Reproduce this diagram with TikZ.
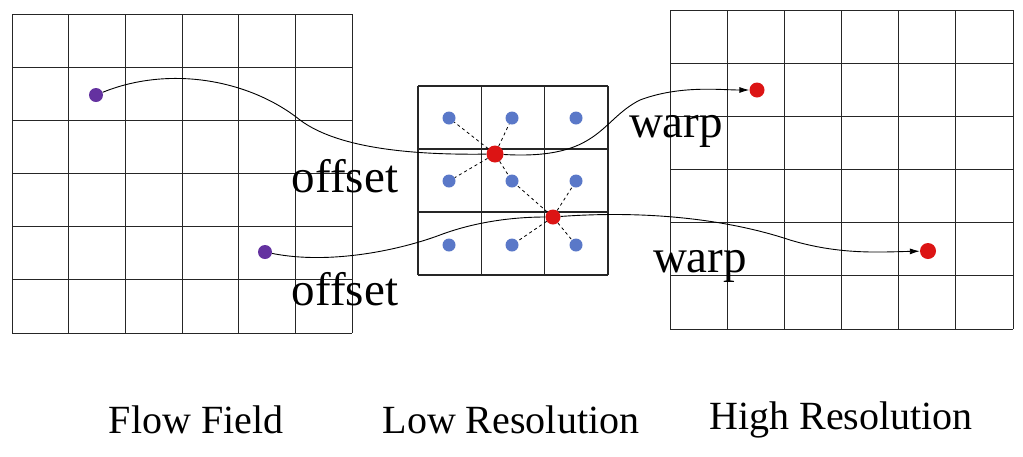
\documentclass[tikz,border=0pt]{standalone}
\usepackage{fontspec}
\setmainfont{Liberation Serif}
\usetikzlibrary{arrows.meta}
\begin{document}
\begin{tikzpicture}[x=1pt,y=-1pt,
  grid/.style={line width=0.9pt,black!85},
  blue dot/.style={circle,fill={rgb,255:red,90;green,120;blue,200},inner sep=0,minimum size=13pt},
  red dot/.style={circle,fill={rgb,255:red,220;green,20;blue,20},inner sep=0,minimum size=15pt},
  purple dot/.style={circle,fill={rgb,255:red,100;green,50;blue,160},inner sep=0,minimum size=14pt},
  lbl/.style={font=\fontsize{47}{50}\selectfont},
  captxt/.style={font=\fontsize{40}{44}\selectfont},
  flow/.style={line width=0.9pt},
  dsh/.style={dashed,line width=0.8pt}]
\useasboundingbox (0,0) rectangle (1023,456);
% left grid
\foreach \i in {0,...,6}{
  \draw[grid] ({12+\i*340/6},14) -- ({12+\i*340/6},333);
  \draw[grid] (12,{14+\i*319/6}) -- (352,{14+\i*319/6});}
% right grid
\foreach \i in {0,...,6}{
  \draw[grid] ({670+\i*343/6},10) -- ({670+\i*343/6},329);
  \draw[grid] (670,{10+\i*319/6}) -- (1013,{10+\i*319/6});}
% middle grid
\foreach \i in {0,...,3}{
  \draw[grid,line width=1.1pt] ({418+\i*190/3},86) -- ({418+\i*190/3},275);
  \draw[grid,line width=1.1pt] (418,{86+\i*189/3}) -- (608,{86+\i*189/3});}
% blue dots
\foreach \r [count=\ri] in {118,181,245}
  \foreach \c [count=\ci] in {449,512,576}
    \node[blue dot] (b\ri\ci) at (\c,\r) {};
\node[red dot,minimum size=17pt] (r1) at (495,154) {};
\node[red dot] (r2) at (553,217) {};
\node[purple dot] (p1) at (96,95) {};
\node[purple dot] (p2) at (265,252) {};
\node[red dot] (t1) at (757,90) {};
\node[red dot,minimum size=16pt] (t2) at (928,251) {};
\foreach \b in {b11,b12,b21,b22} \draw[dsh] (r1) -- (\b);
\foreach \b in {b22,b23,b32,b33} \draw[dsh] (r2) -- (\b);
% curves
\draw[flow] (p1) .. controls (170,65) and (250,80) .. (300,120) .. controls (340,150) and (420,155) .. (r1);
\draw[flow] (p2) .. controls (330,265) and (400,250) .. (440,235) .. controls (480,220) and (520,217) .. (r2);
\draw[flow,-{Latex[length=10pt,width=6pt]}] (r1) .. controls (600,160) and (600,120) .. (640,100) .. controls (680,85) and (720,90) .. (t1);
\draw[flow,-{Latex[length=10pt,width=6pt]}] (r2) .. controls (650,210) and (730,220) .. (790,240) .. controls (840,255) and (880,252) .. (t2);
% labels
\node[lbl] (o1) at (345,176) {offset};
\node[lbl] (o2) at (345,289) {offset};
\node[lbl] (w1) at (676,131) {warp};
\node[lbl] (w2) at (700,266) {warp};
\node[captxt] (c1) at (196,420) {Flow Field};
\node[captxt] (c2) at (511,420) {Low Resolution};
\node[captxt] (c3) at (841,420) {High Resolution};
\end{tikzpicture}
\end{document}
